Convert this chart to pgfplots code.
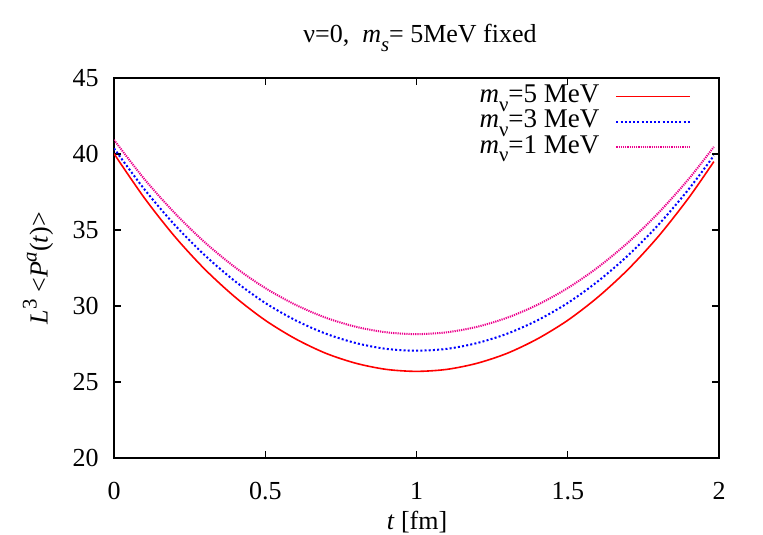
\documentclass[border=0pt]{standalone}
\usepackage{fontspec}
\setmainfont{Liberation Serif}
\usepackage{pgfplots}
\usepackage{pgfplotstable}
\pgfplotsset{compat=1.18}

\newcommand\sups[1]{\raisebox{0.42em}{\fontsize{10.4}{12}\selectfont #1}}
\newcommand\subs[1]{\raisebox{-0.32em}{\fontsize{10.4}{12}\selectfont #1}}

\pgfplotstableread{
t v
0 40.02
0.1 37.12
0.2 34.59
0.3 32.42
0.4 30.59
0.5 29.06
0.6 27.84
0.7 26.89
0.8 26.23
0.9 25.83
1.0 25.70
1.1 25.83
1.2 26.23
1.3 26.89
1.4 27.84
1.5 29.06
1.6 30.59
1.7 32.42
1.8 34.59
1.9 37.12
1.983 39.50
}\redtab
\pgfplotstableread{
t v
0 40.37
0.1 37.69
0.2 35.35
0.3 33.34
0.4 31.63
0.5 30.20
0.6 29.06
0.7 28.18
0.8 27.56
0.9 27.18
1.0 27.06
1.1 27.18
1.2 27.56
1.3 28.18
1.4 29.06
1.5 30.20
1.6 31.63
1.7 33.34
1.8 35.35
1.9 37.69
1.983 39.89
}\bluetab
\pgfplotstableread{
t v
0 40.93
0.1 38.36
0.2 36.13
0.3 34.19
0.4 32.55
0.5 31.18
0.6 30.08
0.7 29.23
0.8 28.63
0.9 28.27
1.0 28.15
1.1 28.27
1.2 28.63
1.3 29.23
1.4 30.08
1.5 31.18
1.6 32.55
1.7 34.19
1.8 36.13
1.9 38.36
1.983 40.47
}\magtab

\begin{document}
\begin{tikzpicture}[font=\fontsize{13}{15}\selectfont]
\useasboundingbox (-57pt,-38pt) rectangle (324.5pt,229pt);
\begin{axis}[
  at={(0pt,0pt)}, anchor=south west,
  scale only axis, width=302.5pt, height=190pt,
  xmin=0, xmax=2, ymin=20, ymax=45,
  xtick={0,0.5,1,1.5,2},
  xticklabels={0,0.5,1,1.5,2},
  ytick={20,25,30,35,40,45},
  axis line style={line width=0.6pt},
  major tick style={line width=0.6pt, black},
  major tick length=3.5pt,
  minor tick num=0,
  tick align=inside,
  /pgf/number format/assume math mode=true,
  tick label style={font=\fontsize{13}{15}\selectfont},
  xticklabel style={yshift=-8.5pt},
  yticklabel style={xshift=-4.2pt},
  legend plot pos=right,
  legend cell align=right,
  legend style={at={(rel axis cs:0.955,0.985)}, anchor=north east,
    draw=none, fill=none, inner sep=0pt, row sep=0pt,
    font=\fontsize{13.5}{15}\selectfont,
    nodes={text height=8.5pt, text depth=2.25pt, inner ysep=0.9pt, inner xsep=2pt},
    /tikz/every odd column/.append style={column sep=6pt}},
  legend image code/.code={\draw[#1] (0pt,0pt) -- (37pt,0pt);},
]
\addplot[red, line width=0.8pt, smooth] table[x=t,y=v] {\redtab};
\addlegendentry{\textit{m}\subs{ν}=5 MeV}
\addplot[blue, line width=1pt, dash pattern=on 1pt off 1.1pt, smooth] table[x=t,y=v] {\bluetab};
\addlegendentry{\textit{m}\subs{ν}=3 MeV}
\addplot[magenta, line width=1pt, dash pattern=on 0.6pt off 0.5pt, smooth] table[x=t,y=v] {\magtab};
\addlegendentry{\textit{m}\subs{ν}=1 MeV}
\end{axis}
\node at (153pt,210pt) {ν=0,\ \ \textit{m}\subs{\textit{s}}= 5MeV fixed};
\node at (151.5pt,-32pt) {\textit{t} [fm]};
\node[rotate=90] at (-38pt,95pt) {\textit{L}\sups{3} <\textit{P}\sups{\textit{a}}(\textit{t})>};
\end{tikzpicture}
\end{document}
